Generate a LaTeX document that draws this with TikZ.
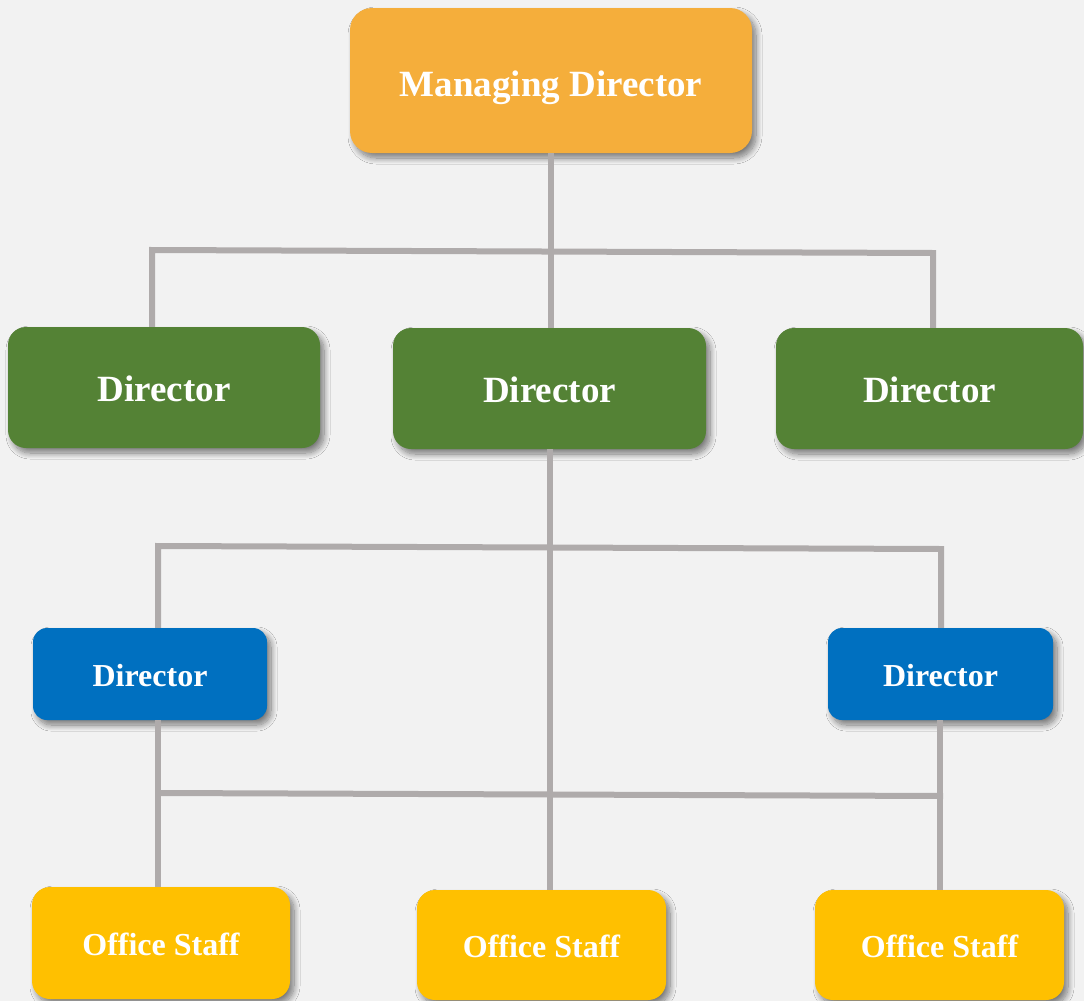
\documentclass[tikz,border=0pt]{standalone}
\usepackage{fontspec}
\setmainfont{Liberation Serif}
\usetikzlibrary{shadows.blur}
\definecolor{bgc}{HTML}{F2F2F2}
\definecolor{mdc}{HTML}{F5AE3B}
\definecolor{grc}{HTML}{548235}
\definecolor{blc}{HTML}{0070C0}
\definecolor{ylc}{HTML}{FFC000}
\definecolor{lnc}{HTML}{AFABAB}
\tikzset{
  box/.style={rectangle, rounded corners=18pt, inner sep=0pt, text=white,
    font=\bfseries, text depth=0pt, blur shadow={shadow xshift=4pt, shadow yshift=-5pt,
    shadow blur radius=6pt, shadow blur steps=12, shadow opacity=50}},
  bigtxt/.style={font=\bfseries\fontsize{37}{44}\selectfont},
  smalltxt/.style={font=\bfseries\fontsize{32}{38}\selectfont},
  link/.style={draw=lnc, line width=6pt}
}
\begin{document}
\begin{tikzpicture}[x=1pt,y=-1pt]
\fill[bgc] (0,0) rectangle (1084,1001);
\useasboundingbox (0,0) rectangle (1084,1001);
% nodes
\node[box, bigtxt, fill=mdc, minimum width=402pt, minimum height=145pt, rounded corners=22pt, text height=32pt] (md) at (551,80.5) {Managing Director};
\node[box, bigtxt, fill=grc, minimum width=312pt, minimum height=121pt, text height=28.4pt] (d1) at (164,387.5) {Director};
\node[box, bigtxt, fill=grc, minimum width=313pt, minimum height=121pt, text height=28.4pt] (d2) at (549.5,388.5) {Director};
\node[box, bigtxt, fill=grc, minimum width=307pt, minimum height=121pt, text height=28.4pt] (d3) at (929.5,388.5) {Director};
\node[box, smalltxt, fill=blc, minimum width=234pt, minimum height=92pt, rounded corners=14pt, text height=25.4pt] (b1) at (150,674) {Director};
\node[box, smalltxt, fill=blc, minimum width=225pt, minimum height=92pt, rounded corners=14pt, text height=25.4pt] (b2) at (940.5,674) {Director};
\node[box, smalltxt, fill=ylc, minimum width=258pt, minimum height=112pt, text height=24pt] (s1) at (161,943) {Office Staff};
\node[box, smalltxt, fill=ylc, minimum width=249pt, minimum height=110pt, text height=25pt] (s2) at (541.5,945) {Office Staff};
\node[box, smalltxt, fill=ylc, minimum width=249pt, minimum height=110pt, text height=25pt] (s3) at (939.5,945) {Office Staff};
% junction coordinates
\coordinate (a) at (551,0);
\coordinate (j1l) at (152,250);
\coordinate (j1r) at (933,253);
\coordinate (k) at (550,0);
\coordinate (j2l) at (158,546);
\coordinate (j2r) at (941,549);
\coordinate (m1) at (158,0);
\coordinate (m2) at (940,0);
\coordinate (j3l) at (160,793);
\coordinate (j3r) at (943,796);
% connectors
\draw[link] (md.south -| a) -- (a |- d2.north);
\draw[link] (j1l |- d1.north) -- (j1l) -- (j1r) -- (j1r |- d3.north);
\draw[link] (k |- d2.south) -- (k |- s2.north);
\draw[link] (j2l |- b1.north) -- (j2l) -- (j2r) -- (j2r |- b2.north);
\draw[link] (m1 |- b1.south) -- (m1 |- s1.north);
\draw[link] (m2 |- b2.south) -- (m2 |- s3.north);
\draw[link] (j3l) -- (j3r);
\end{tikzpicture}
\end{document}
